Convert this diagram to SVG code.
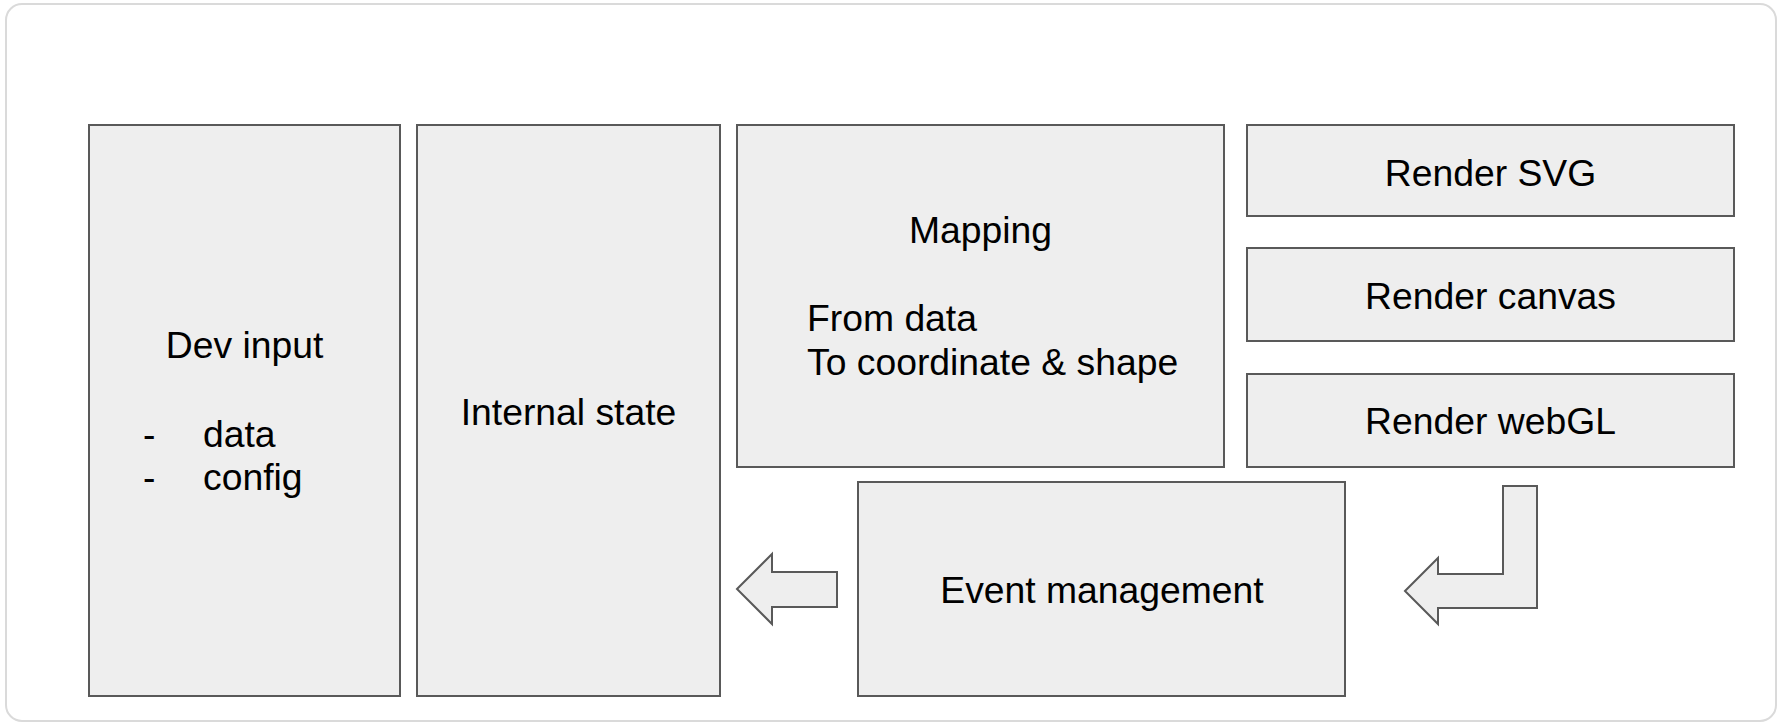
<svg xmlns="http://www.w3.org/2000/svg" width="1777" height="724" viewBox="0 0 1777 724">
<style>
.box{fill:#eeeeee;stroke:#595959;stroke-width:2}
.arr{fill:#eeeeee;stroke:#595959;stroke-width:2;stroke-linejoin:miter}
.t{font-family:"Liberation Sans",Arial,sans-serif;font-size:37.3px;fill:#000000}
.c{text-anchor:middle}
</style>
<rect x="0" y="0" width="1777" height="724" fill="#ffffff"/>
<rect x="6" y="4" width="1770" height="717" rx="16" fill="#ffffff" stroke="#dadada" stroke-width="2"/>
<g id="dev-input">
<rect class="box" x="89" y="125" width="311" height="571"/>
<text class="t c" x="244.5" y="358">Dev input</text>
<text class="t" x="143" y="447">-</text>
<text class="t" x="203" y="447">data</text>
<text class="t" x="143" y="490">-</text>
<text class="t" x="203" y="490">config</text>
</g>
<g id="internal-state">
<rect class="box" x="417" y="125" width="303" height="571"/>
<text class="t c" x="568.5" y="425">Internal state</text>
</g>
<g id="mapping">
<rect class="box" x="737" y="125" width="487" height="342"/>
<text class="t c" x="980.5" y="243">Mapping</text>
<text class="t" x="807" y="331">From data</text>
<text class="t" x="807" y="375">To coordinate &amp; shape</text>
</g>
<g id="render-svg">
<rect class="box" x="1247" y="125" width="487" height="91"/>
<text class="t c" x="1490.5" y="186">Render SVG</text>
</g>
<g id="render-canvas">
<rect class="box" x="1247" y="248" width="487" height="93"/>
<text class="t c" x="1490.5" y="309">Render canvas</text>
</g>
<g id="render-webgl">
<rect class="box" x="1247" y="374" width="487" height="93"/>
<text class="t c" x="1490.5" y="434">Render webGL</text>
</g>
<g id="event-management">
<rect class="box" x="858" y="482" width="487" height="214"/>
<text class="t c" x="1102" y="603">Event management</text>
</g>
<g id="connectors">
<path class="arr" d="M737,589 L772,554 L772,572 L837,572 L837,607 L772,607 L772,624 Z"/>
<path class="arr" d="M1405,591 L1438,558 L1438,574 L1503,574 L1503,486 L1537,486 L1537,608 L1438,608 L1438,624 Z"/>
</g>
</svg>
